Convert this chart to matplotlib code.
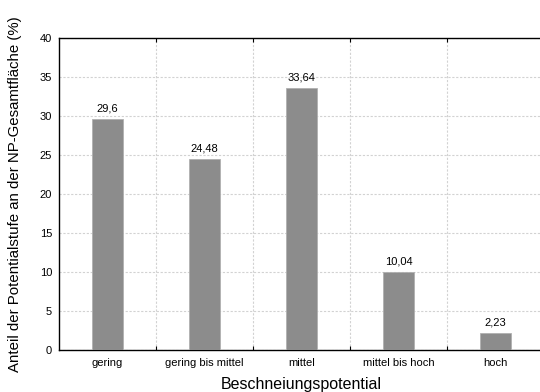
import numpy as np
import matplotlib
matplotlib.use('Agg')
import matplotlib.pyplot as plt

categories = ['gering', 'gering bis mittel', 'mittel', 'mittel bis hoch', 'hoch']
values = [29.6, 24.48, 33.64, 10.04, 2.23]
labels = ['29,6', '24,48', '33,64', '10,04', '2,23']
yticks = [0, 5, 10, 15, 20, 25, 30, 35, 40]

plt.rcParams['font.family'] = ['Liberation Sans', 'DejaVu Sans']

fig = plt.figure(figsize=(5.4, 3.92), dpi=100)
ax = fig.add_axes([59 / 540, 1 - 350 / 392, 485 / 540, 312 / 392])

x = np.arange(len(categories))
ax.bar(x, values, width=0.32, color='#8c8c8c', edgecolor='#b0b0b0', linewidth=0.6, zorder=3)
for xi, v, lab in zip(x, values, labels):
    ax.text(xi, v + 0.7, lab, ha='center', va='bottom', fontsize=8)

ax.set_xlim(-0.5, len(categories) - 0.5)
ax.set_ylim(0, 40)
ax.set_yticks(yticks)
ax.set_yticklabels([str(t) for t in yticks], fontsize=8)
ax.set_xticks(x)
ax.set_xticklabels(categories, fontsize=8)
ax.tick_params(axis='x', length=0, pad=6)
ax.tick_params(axis='y', length=0, pad=5)

# boundaries between categories carry the vertical grid
bounds = np.arange(0.5, len(categories) - 0.5, 1.0)
ax.set_xticks(bounds, minor=True)
ax.tick_params(axis='x', which='minor', direction='in', length=3, top=True, bottom=True, width=0.8)
ax.grid(True, which='minor', axis='x', color='#d2d2d2', linestyle=(0, (2, 1.5)), linewidth=0.8)
ax.grid(True, which='major', axis='y', color='#d2d2d2', linestyle=(0, (2, 1.5)), linewidth=0.8)
ax.set_axisbelow(True)

for s in ['left', 'bottom', 'top']:
    ax.spines[s].set_linewidth(1.0)
ax.spines['right'].set_visible(False)

ax.set_xlabel('Beschneiungspotential', fontsize=11.5, labelpad=6)
ax.set_ylabel('Anteil der Potentialstufe an der NP-Gesamtfläche (%)', fontsize=10.8, labelpad=13)

fig.savefig('out.png', dpi=100)
